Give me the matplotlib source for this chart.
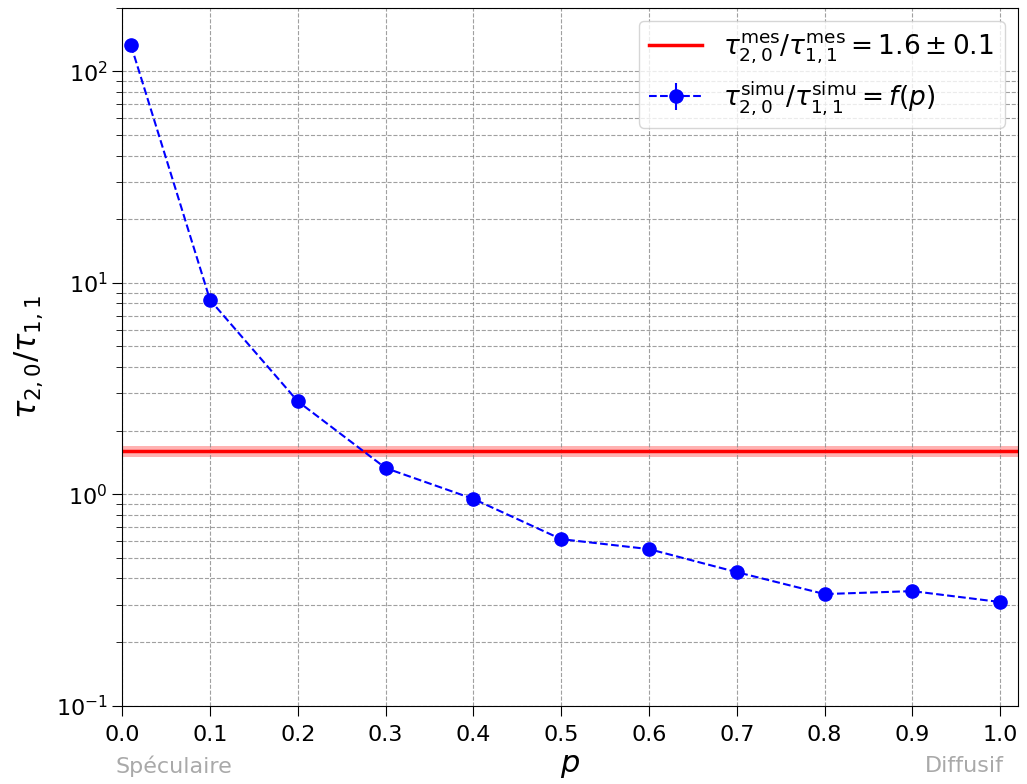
import numpy as np
import matplotlib
matplotlib.use('Agg')
import matplotlib.pyplot as plt

p = [0.01, 0.1, 0.2, 0.3, 0.4, 0.5, 0.6, 0.7, 0.8, 0.9, 1.0]
ratio = [133, 8.3, 2.75, 1.33, 0.95, 0.613, 0.55, 0.428, 0.337, 0.348, 0.309]
ratio_err = [0, 0, 0, 0, 0, 0, 0, 0, 0, 0, 0]
mes = 1.6
mes_err = 0.1
xticks = [0.0, 0.1, 0.2, 0.3, 0.4, 0.5, 0.6, 0.7, 0.8, 0.9, 1.0]

fig, ax = plt.subplots(figsize=(10.27, 7.84), dpi=100)

ax.axhline(mes, color='red', lw=2.5, label=r'$\tau_{2,0}^{\rm mes}/\tau_{1,1}^{\rm mes} = 1.6 \pm 0.1$')
ax.axhspan(mes - mes_err, mes + mes_err, color='red', alpha=0.3, lw=0)
ax.errorbar(p, ratio, yerr=ratio_err, fmt='o--', color='blue', ms=9.5, lw=1.5,
            label=r'$\tau_{2,0}^{\rm simu}/\tau_{1,1}^{\rm simu} = f(p)$')

ax.set_yscale('log')
ax.set_ylim(0.1, 200)
ax.set_xlim(0, 1.02)
ax.set_xticks(xticks)
ax.tick_params(labelsize=16, length=7)
ax.tick_params(axis='x', pad=7)
ax.tick_params(which='minor', length=4)
ax.grid(True, which='major', ls='--', color='#888888', alpha=0.8, lw=0.8)
ax.grid(True, which='minor', axis='y', ls='--', color='#888888', alpha=0.8, lw=0.8)

ax.set_xlabel(r'$p$', fontsize=22, labelpad=4)
ax.set_ylabel(r'$\tau_{2,0}/\tau_{1,1}$', fontsize=22, labelpad=8)
ax.text(-0.008, -0.072, 'Spéculaire', transform=ax.transAxes, fontsize=16, color='darkgrey', ha='left', va='top')
ax.text(0.985, -0.072, 'Diffusif', transform=ax.transAxes, fontsize=16, color='darkgrey', ha='right', va='top')

ax.legend(loc='upper right', fontsize=19)

plt.subplots_adjust(left=0.119, right=0.991, top=0.99, bottom=0.1)
plt.savefig('out.png')
